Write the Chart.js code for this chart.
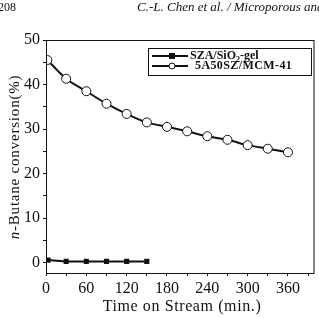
<!DOCTYPE html>
<html>
<head>
<meta charset="utf-8">
<script src="https://cdn.jsdelivr.net/npm/chart.js@4.4.1/dist/chart.umd.min.js"></script>
<style>
  html, body { margin: 0; padding: 0; background: #fff; }
  #wrap { position: relative; width: 319px; height: 318px; }
</style>
</head>
<body>
<div id="wrap"><canvas id="conversionChart" width="319" height="318"></canvas></div>
<script>

// ======================
// DATA
// ======================

const szaTimes = [3, 30, 60, 90, 120, 150];
const szaValues = [0.6, 0.3, 0.3, 0.3, 0.3, 0.3];

const mcmTimes = [2, 30, 60, 90, 120, 150, 180, 210, 240, 270, 300, 330, 360];
const mcmValues = [45.5, 41.3, 38.5, 35.7, 33.4, 31.5, 30.5, 29.5, 28.4, 27.6, 26.4, 25.6, 24.8];

const seriesLabels = ["SZA/SiO", "5A50SZ/MCM-41"];

const xTickLabels = [0, 60, 120, 180, 240, 300, 360];
const yTickLabels = [0, 10, 20, 30, 40, 50];


// ======================
// STYLE
// ======================

const ink = "#111";
const serif = "'Liberation Serif', 'Times New Roman', serif";

function toPoints(xs, ys) {
  return xs.map((x, i) => ({ x: x, y: ys[i] }));
}


// ======================
// EXTRA DRAWING
// ======================

const framePlugin = {
  id: "frame",

  afterDraw(chart) {

    const ctx = chart.ctx;
    const area = chart.chartArea;

    ctx.save();

    // plot box
    ctx.strokeStyle = ink;
    ctx.lineWidth = 1;
    ctx.strokeRect(area.left + 0.5, area.top + 0.5,
      area.right - area.left, area.bottom - area.top);

    // page header
    ctx.fillStyle = ink;
    ctx.textBaseline = "middle";
    ctx.font = "12px " + serif;
    ctx.textAlign = "left";
    ctx.fillText("208", -2, 8);
    ctx.font = "italic 13px " + serif;
    ctx.fillText("C.-L. Chen et al. / Microporous and", 137, 8);

    // x title
    ctx.font = "16px " + serif;
    ctx.letterSpacing = "0.6px";
    ctx.textAlign = "center";
    ctx.fillText("Time on Stream (min.)", 182, 307);

    // y title
    ctx.letterSpacing = "0.8px";
    ctx.save();
    ctx.translate(15, 157);
    ctx.rotate(-Math.PI / 2);
    ctx.textAlign = "left";
    const rest = "-Butane conversion(%)";
    ctx.font = "15px " + serif;
    const wRest = ctx.measureText(rest).width;
    ctx.font = "italic 15px " + serif;
    const wN = ctx.measureText("n").width;
    const start = -(wN + wRest) / 2;
    ctx.fillText("n", start, 0);
    ctx.font = "15px " + serif;
    ctx.fillText(rest, start + wN, 0);
    ctx.restore();

    // legend
    ctx.letterSpacing = "0px";
    const bx = 148, by = 48, bw = 163, bh = 27;
    ctx.strokeStyle = ink;
    ctx.lineWidth = 1;
    ctx.strokeRect(bx + 0.5, by + 0.5, bw, bh);

    const rows = [by + 8, by + 18];
    ctx.lineWidth = 2;
    rows.forEach(yy => {
      ctx.beginPath();
      ctx.moveTo(bx + 4, yy);
      ctx.lineTo(bx + 40, yy);
      ctx.stroke();
    });

    ctx.fillStyle = ink;
    ctx.fillRect(bx + 21, rows[0] - 3, 6, 6);

    ctx.lineWidth = 1;
    ctx.fillStyle = "#fff";
    ctx.beginPath();
    ctx.arc(bx + 24, rows[1], 3, 0, Math.PI * 2);
    ctx.fill();
    ctx.stroke();

    ctx.fillStyle = ink;
    ctx.textAlign = "left";
    ctx.font = "bold 12px " + serif;
    let tx = bx + 42;
    ctx.fillText(seriesLabels[0], tx, rows[0]);
    tx += ctx.measureText(seriesLabels[0]).width;
    ctx.font = "bold 8px " + serif;
    ctx.fillText("2", tx, rows[0] + 4);
    tx += ctx.measureText("2").width;
    ctx.font = "bold 12px " + serif;
    ctx.fillText("-gel", tx, rows[0]);
    ctx.letterSpacing = "0.4px";
    ctx.fillText(seriesLabels[1], bx + 47, rows[1]);

    ctx.restore();
  }
};


// ======================
// CHART
// ======================

const canvas = document.getElementById("conversionChart");

new Chart(canvas, {

  type: "line",

  data: {
    datasets: [
      {
        label: "SZA/SiO2-gel",
        data: toPoints(szaTimes, szaValues),
        borderColor: ink,
        borderWidth: 2,
        backgroundColor: ink,
        pointStyle: "rect",
        pointRadius: 3.6,
        pointBorderWidth: 0,
        tension: 0
      },
      {
        label: "5A50SZ/MCM-41",
        data: toPoints(mcmTimes, mcmValues),
        borderColor: ink,
        borderWidth: 2,
        backgroundColor: "#fff",
        pointBackgroundColor: "#fff",
        pointBorderColor: ink,
        pointBorderWidth: 1,
        pointRadius: 4.5,
        cubicInterpolationMode: "monotone"
      }
    ]
  },

  options: {
    responsive: false,
    animation: false,
    events: [],
    layout: { padding: { left: 0, top: 40, right: 5, bottom: 0 } },
    plugins: {
      legend: { display: false },
      tooltip: { enabled: false }
    },
    scales: {
      x: {
        type: "linear",
        min: 0,
        max: 398,
        afterFit(scale) { scale.height = 45; },
        border: { display: true, color: ink, width: 1 },
        grid: {
          drawOnChartArea: false,
          color: ink,
          tickLength: 3,
          tickColor: ink
        },
        ticks: {
          stepSize: 30,
          includeBounds: false,
          autoSkip: false,
          maxRotation: 0,
          color: ink,
          padding: 3,
          font: { family: serif, size: 16 },
          callback: v => xTickLabels.includes(v) ? String(v) : ""
        }
      },
      y: {
        min: -2.3,
        max: 50,
        afterFit(scale) { scale.width = 46; },
        border: { display: true, color: ink, width: 1 },
        grid: {
          drawOnChartArea: false,
          color: ink,
          tickLength: 3,
          tickColor: ink
        },
        ticks: {
          stepSize: 5,
          includeBounds: false,
          autoSkip: false,
          color: ink,
          padding: 3,
          font: { family: serif, size: 16 },
          callback: v => yTickLabels.includes(v) ? String(v) : ""
        }
      }
    }
  },

  plugins: [framePlugin]

});

</script>
</body>
</html>
